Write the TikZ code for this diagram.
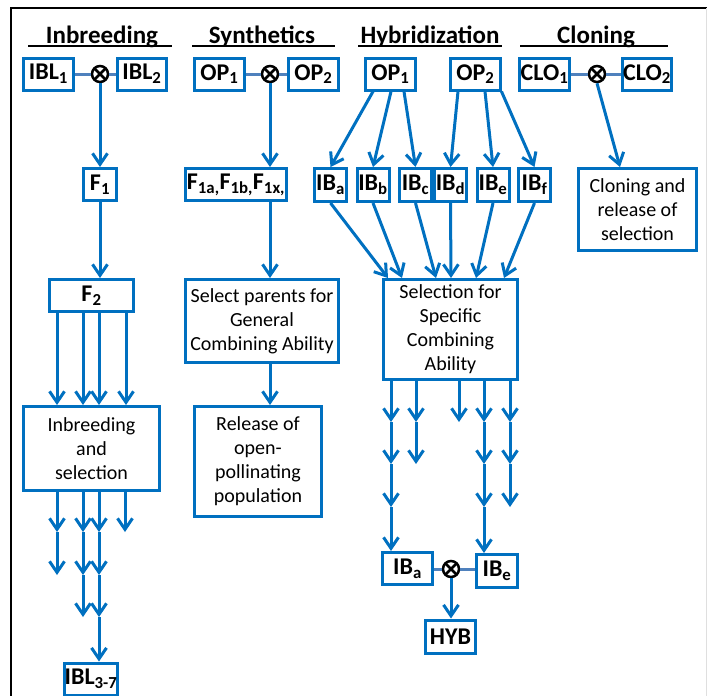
\documentclass[tikz,border=0pt]{standalone}
\usepackage{fontspec}
\setmainfont{Carlito}
\usepackage{tikz}
\usetikzlibrary{arrows.meta, positioning, calc}
\definecolor{boxblue}{RGB}{0,112,192}
\definecolor{linkblue}{RGB}{79,129,189}

\begin{document}
\begin{tikzpicture}[x=1pt, y=-1pt,
    box/.style={draw=boxblue, line width=3pt, fill=white, inner sep=0pt, minimum height=32pt, font=\bfseries\fontsize{24}{28}\selectfont},
    txtbox/.style={draw=boxblue, line width=3pt, fill=white, inner sep=0pt, align=center, font=\fontsize{20}{24}\selectfont},
    title/.style={anchor=base, font=\bfseries\fontsize{25}{29}\selectfont},
    cross/.style={circle, draw=black, fill=white, line width=2.5pt, minimum size=16pt, inner sep=0pt,
      path picture={\draw[line width=2.5pt] (path picture bounding box.north west) -- (path picture bounding box.south east)
        (path picture bounding box.north east) -- (path picture bounding box.south west);}},
    arr/.style={draw=boxblue, line width=3pt, -{Straight Barb[length=11pt, width=15pt]}},
    link/.style={draw=linkblue, line width=3pt},
    uline/.style={black, line width=2.5pt}]
  \useasboundingbox (0,0) rectangle (707,696);
  % frame
  \draw[black, line width=2pt] (11,697) -- (11,8) -- (707,8);
  \draw[gray!25, line width=1pt] (706,8) -- (706,696);

  % headings
  \node[title] (tinb) at (102,43) {Inbreeding};
  \node[title] (tsyn) at (262,43) {Synthetics};
  \node[title] (thyb) at (430,43) {Hybridization};
  \node[title] (tclo) at (596,43) {Cloning};
  \draw[uline] (28,46) -- (172,46);
  \draw[uline] (192,46) -- (335,46);
  \draw[uline] (358,46) -- (502,46);
  \draw[uline] (520,46) -- (668,46);

  % Inbreeding
  \node[box, minimum width=50pt] (ibl1) at (48.5,74) {IBL\textsubscript{1}};
  \node[box, minimum width=49pt] (ibl2) at (142,74) {IBL\textsubscript{2}};
  \node[cross] (x1) at (100,74) {};
  \node[box, minimum width=33pt] (f1) at (100,184.5) {F\textsubscript{1}};
  \node[box, minimum width=84pt] (f2) at (91.5,295.5) {F\textsubscript{2}};
  \node[txtbox, minimum width=136pt, minimum height=84pt] (inb) at (91.5,448.5) {Inbreeding\\and\\selection};
  \node[box, minimum width=49pt] (ibl37) at (91,679) {IBL\textsubscript{3-7}};
  \draw[link] (ibl1) -- (x1) -- (ibl2);
  \draw[arr] (x1.south) -- (f1.north);
  \draw[arr] (f1.south) -- (f2.north -| f1.south);
  \foreach \x in {57,83,99,126}
    \draw[arr] (f2.south -| \x,0) -- (inb.north -| \x,0);
  \coordinate (i1) at (0,532);
  \coordinate (i2) at (0,575);
  \coordinate (i3) at (0,617);
  \foreach \x in {57,83,99,125}
    \draw[arr] (inb.south -| \x,0) -- (i1 -| \x,0);
  \foreach \x in {57,83,99}
    \draw[arr] (i1 -| \x,0) -- (i2 -| \x,0);
  \foreach \x in {83,99}
    \draw[arr] (i2 -| \x,0) -- (i3 -| \x,0);
  \draw[arr] (i3 -| 99,0) -- (ibl37.north -| 99,0);

  % Synthetics
  \node[box, minimum width=50pt] (op1) at (219.5,74) {OP\textsubscript{1}};
  \node[box, minimum width=50pt] (op2) at (313.5,74) {OP\textsubscript{2}};
  \node[cross] (x2) at (270,74) {};
  \node[box, minimum width=101pt] (f1a) at (236,184.5) {F\textsubscript{1a,}F\textsubscript{1b,}F\textsubscript{1x,}};
  \node[txtbox, minimum width=153pt, minimum height=83pt] (gca) at (262,321) {Select parents for\\General\\Combining Ability};
  \node[txtbox, minimum width=127pt, minimum height=110pt] (rel) at (258,461.5) {Release of\\open-\\pollinating\\population};
  \draw[link] (op1) -- (x2) -- (op2);
  \draw[arr] (x2.south) -- (f1a.north -| x2.south);
  \draw[arr] (f1a.south -| x2) -- (gca.north -| x2);
  \draw[arr] (gca.south -| x2) -- (rel.north -| x2);

  % Hybridization
  \node[box, minimum width=50pt] (hop1) at (390.5,74) {OP\textsubscript{1}};
  \node[box, minimum width=50pt] (hop2) at (475.5,74) {OP\textsubscript{2}};
  \foreach \n/\x in {a/330.5, b/373, c/415.5, d/450.5, e/493, f/534.5}
    \node[box, minimum width=32pt, minimum height=33pt] (ib\n) at (\x,185) {IB\textsubscript{\n}};
  \node[txtbox, minimum width=134pt, minimum height=100pt] (sca) at (450.5,329.5) {Selection for\\Specific\\Combining\\Ability};
  \draw[arr] ([xshift=-17.5pt]hop1.south) -- (iba.north);
  \draw[arr] ([xshift=0.5pt]hop1.south) -- (ibb.north);
  \draw[arr] ([xshift=13.5pt]hop1.south) -- (ibc.north);
  \draw[arr] ([xshift=-17.5pt]hop2.south) -- (ibd.north);
  \draw[arr] ([xshift=9.5pt]hop2.south) -- (ibe.north);
  \draw[arr] ([xshift=26pt]hop2.south) -- (ibf.north);
  \foreach \n/\s in {a/-62.5, b/-48.5, c/-14.5, d/0.5, e/25.5, f/53.5}
    \draw[arr] (ib\n.south) -- ([xshift=\s pt]sca.north);
  \node[box, minimum width=50pt] (iba2) at (407.5,568.5) {IB\textsubscript{a}};
  \node[box, minimum width=41pt, minimum height=33pt] (ibe2) at (497,571) {IB\textsubscript{e}};
  \node[cross] (x4) at (451,569) {};
  \node[box, minimum width=50pt, minimum height=33pt] (hyb) at (450.5,636.5) {HYB};
  \coordinate (h1) at (0,422);
  \coordinate (h2) at (0,464);
  \coordinate (h3) at (0,507);
  \foreach \x in {391,416,459,484,510}
    \draw[arr] (sca.south -| \x,0) -- (h1 -| \x,0);
  \foreach \x in {391,416,484,510}
    \draw[arr] (h1 -| \x,0) -- (h2 -| \x,0);
  \foreach \x in {391,484,510}
    \draw[arr] (h2 -| \x,0) -- (h3 -| \x,0);
  \draw[arr] (h3 -| 391,0) -- (iba2.north -| 391,0);
  \draw[arr] (h3 -| 484,0) -- (ibe2.north -| 484,0);
  \draw[link] (iba2.east |- x4) -- (x4) -- (ibe2.west |- x4);
  \draw[arr] (x4.south) -- (hyb.north -| x4.south);

  % Cloning
  \node[box, minimum width=50pt] (clo1) at (544.5,74) {CLO\textsubscript{1}};
  \node[box, minimum width=49pt] (clo2) at (647,74) {CLO\textsubscript{2}};
  \node[cross] (x3) at (597,74) {};
  \node[txtbox, minimum width=118pt, minimum height=82pt] (clon) at (637.5,209.5) {Cloning and\\release of\\selection};
  \draw[link] (clo1) -- (x3) -- (clo2);
  \draw[arr] (x3.south) -- ([xshift=-17.5pt]clon.north);
\end{tikzpicture}
\end{document}
